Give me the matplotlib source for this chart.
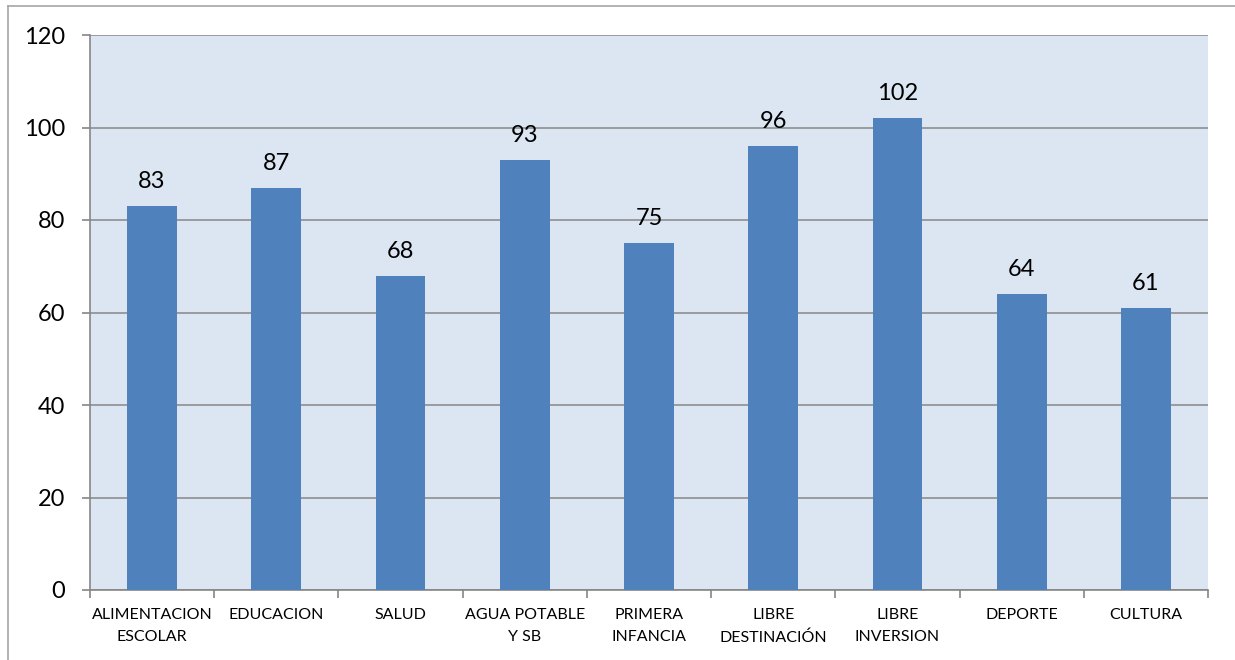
import matplotlib.pyplot as plt
import numpy as np
from matplotlib.lines import Line2D

categories = ["ALIMENTACION\nESCOLAR", "EDUCACION", "SALUD", "AGUA POTABLE\nY SB",
              "PRIMERA\nINFANCIA", "LIBRE\nDESTINACIÓN", "LIBRE\nINVERSION",
              "DEPORTE", "CULTURA"]
values = [83, 87, 68, 93, 75, 96, 102, 64, 61]

plt.rcParams['font.family'] = ['Lato', 'DejaVu Sans']

fig = plt.figure(figsize=(12.35, 6.6), dpi=100)
ax = fig.add_axes([90 / 1235, 1 - 590 / 660, 1118 / 1235, 555 / 660])

# outer chart frame (only left and top edges visible)
frame_x = 7.5 / 1235
frame_y = 1 - 5.5 / 660
fig.add_artist(Line2D([frame_x, frame_x], [0, frame_y], transform=fig.transFigure,
                      color='#a6a6a6', linewidth=1.2))
fig.add_artist(Line2D([frame_x, 1], [frame_y, frame_y], transform=fig.transFigure,
                      color='#a6a6a6', linewidth=1.2))

x = np.arange(len(categories))
ax.set_facecolor('#dce6f2')
ax.bar(x, values, width=0.4, color='#4f81bd', zorder=3)

for xi, v in zip(x, values):
    ax.text(xi, v + 3, str(v), ha='center', va='bottom', fontsize=17, color='black')

ax.set_xlim(-0.5, len(categories) - 0.5)
ax.set_ylim(0, 120)
ax.set_yticks(range(0, 121, 20))
ax.tick_params(axis='y', labelsize=17, length=6, width=1.2, color='#868686', pad=12)
ax.yaxis.grid(True, color='#868686', linewidth=1.1, zorder=1)

ax.set_xticks(x)
ax.set_xticklabels(categories, fontsize=11.5, linespacing=1.75)
ax.tick_params(axis='x', length=0, pad=13)
ax.set_xticks(np.arange(-0.5, len(categories), 1), minor=True)
ax.tick_params(axis='x', which='minor', length=6, width=1.2, color='#868686')

for side in ['top', 'right']:
    ax.spines[side].set_visible(False)
for side in ['left', 'bottom']:
    ax.spines[side].set_color('#868686')
    ax.spines[side].set_linewidth(1.2)

fig.savefig("out.png", dpi=100)
